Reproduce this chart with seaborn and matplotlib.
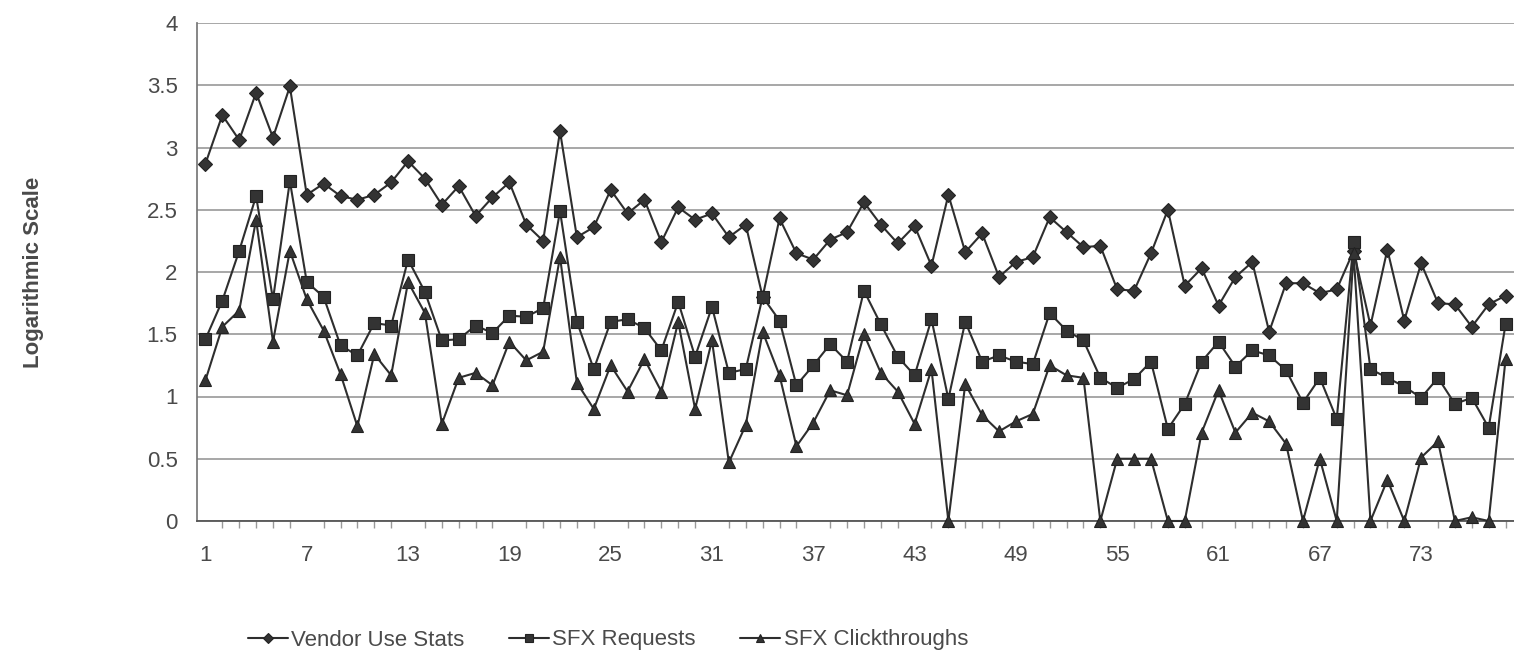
"""
Usage stats comparison: vendor stats vs SFX requests and clickthroughs,
plotted on a log scale over 78 months.
"""

import matplotlib

matplotlib.use("Agg")
import matplotlib.pyplot as plt
from matplotlib.ticker import MultipleLocator
import pandas as pd
import seaborn as sns

months = list(range(1, 79))

vendor_use = [
    2.87, 3.26, 3.06, 3.44, 3.08, 3.49, 2.62, 2.71, 2.61, 2.58,
    2.62, 2.72, 2.89, 2.75, 2.54, 2.69, 2.45, 2.60, 2.72, 2.38,
    2.25, 3.13, 2.28, 2.36, 2.66, 2.47, 2.58, 2.24, 2.52, 2.42,
    2.47, 2.28, 2.38, 1.80, 2.43, 2.15, 2.10, 2.26, 2.32, 2.56,
    2.38, 2.23, 2.37, 2.05, 2.62, 2.16, 2.31, 1.96, 2.08, 2.12,
    2.44, 2.32, 2.20, 2.21, 1.86, 1.85, 2.15, 2.50, 1.89, 2.03,
    1.73, 1.96, 2.08, 1.52, 1.91, 1.91, 1.83, 1.86, 2.17, 1.57,
    2.18, 1.61, 2.07, 1.75, 1.74, 1.56, 1.74, 1.81,
]

sfx_requests = [
    1.46, 1.77, 2.17, 2.61, 1.78, 2.73, 1.92, 1.80, 1.41, 1.33,
    1.59, 1.57, 2.10, 1.84, 1.45, 1.46, 1.57, 1.51, 1.65, 1.64,
    1.71, 2.49, 1.60, 1.22, 1.60, 1.62, 1.55, 1.37, 1.76, 1.32,
    1.72, 1.19, 1.22, 1.80, 1.61, 1.09, 1.25, 1.42, 1.28, 1.85,
    1.58, 1.32, 1.17, 1.62, 0.98, 1.60, 1.28, 1.33, 1.28, 1.26,
    1.67, 1.53, 1.45, 1.15, 1.07, 1.14, 1.28, 0.74, 0.94, 1.28,
    1.44, 1.24, 1.37, 1.33, 1.21, 0.95, 1.15, 0.82, 2.24, 1.22,
    1.15, 1.08, 0.99, 1.15, 0.94, 0.99, 0.75, 1.58,
]

sfx_clickthroughs = [
    1.13, 1.56, 1.69, 2.42, 1.44, 2.17, 1.78, 1.53, 1.18, 0.76,
    1.34, 1.17, 1.92, 1.67, 0.78, 1.15, 1.19, 1.09, 1.44, 1.29,
    1.36, 2.12, 1.11, 0.90, 1.25, 1.04, 1.30, 1.04, 1.60, 0.90,
    1.45, 0.47, 0.77, 1.52, 1.17, 0.60, 0.79, 1.05, 1.01, 1.50,
    1.19, 1.04, 0.78, 1.22, 0.00, 1.10, 0.85, 0.72, 0.80, 0.86,
    1.25, 1.17, 1.15, 0.00, 0.50, 0.50, 0.50, 0.00, 0.00, 0.71,
    1.05, 0.71, 0.87, 0.80, 0.62, 0.00, 0.50, 0.00, 2.15, 0.00,
    0.33, 0.00, 0.51, 0.64, 0.00, 0.03, 0.00, 1.30,
]

series_names = ["Vendor Use Stats", "SFX Requests", "SFX Clickthroughs"]
y_ticks = [0, 0.5, 1, 1.5, 2, 2.5, 3, 3.5, 4]
x_tick_labels = list(range(1, 79, 6))

TEXT = "#4a4a4a"
LINE = "#2e2e2e"
GRID = "#8f8f8f"

sns.set_theme(style="white")
plt.rcParams["font.family"] = ["Liberation Sans", "DejaVu Sans"]

df = pd.DataFrame(
    {
        "Month": months * 3,
        "Value": vendor_use + sfx_requests + sfx_clickthroughs,
        "Series": [n for n in series_names for _ in months],
    }
)

fig = plt.figure(figsize=(15.14, 6.57), dpi=100)
ax = fig.add_axes([197 / 1514, 1 - 521 / 657, 1317 / 1514, 498 / 657])

styles = {
    "Vendor Use Stats": dict(marker="D", markersize=7),
    "SFX Requests": dict(marker="s", markersize=9),
    "SFX Clickthroughs": dict(marker="^", markersize=9),
}

for name in series_names:
    sns.lineplot(
        data=df[df["Series"] == name],
        x="Month",
        y="Value",
        ax=ax,
        color=LINE,
        linewidth=1.5,
        markeredgecolor="#222222",
        markerfacecolor="#333333",
        markeredgewidth=0.8,
        label=name,
        clip_on=False,
        zorder=3,
        **styles[name],
    )

ax.set_xlim(0.5, 78.5)
ax.set_ylim(0, 4)
ax.set_yticks(y_ticks)
ax.set_yticklabels([f"{t:g}" for t in y_ticks])
ax.set_xticks(x_tick_labels)
ax.xaxis.set_minor_locator(MultipleLocator(1))
ax.yaxis.grid(True, color=GRID, linewidth=1.1)
ax.set_axisbelow(True)

for side in ["top", "right"]:
    ax.spines[side].set_visible(False)
ax.spines["left"].set_color("#777777")
ax.spines["bottom"].set_color("#555555")
ax.spines["bottom"].set_linewidth(1.3)

ax.tick_params(axis="both", which="major", direction="out", length=6,
               color="#777777", labelsize=16, labelcolor=TEXT)
ax.tick_params(axis="x", which="major", pad=11)
ax.tick_params(axis="y", which="major", pad=8)
ax.tick_params(axis="x", which="minor", direction="out", length=5,
               color="#999999", bottom=True)

ax.set_xlabel("")
ax.set_ylabel("Logarithmic Scale", fontsize=16, fontweight="bold", color=TEXT)
ax.yaxis.set_label_coords(-0.116, 0.5)

ax.legend(
    loc="center",
    bbox_to_anchor=(608 / 1514, 17 / 657),
    bbox_transform=fig.transFigure,
    ncol=3,
    frameon=False,
    fontsize=16,
    labelcolor=TEXT,
    handlelength=1.8,
    handletextpad=0.15,
    columnspacing=2.0,
    markerscale=0.7,
)

fig.savefig("out.png", dpi=100)
plt.close(fig)
